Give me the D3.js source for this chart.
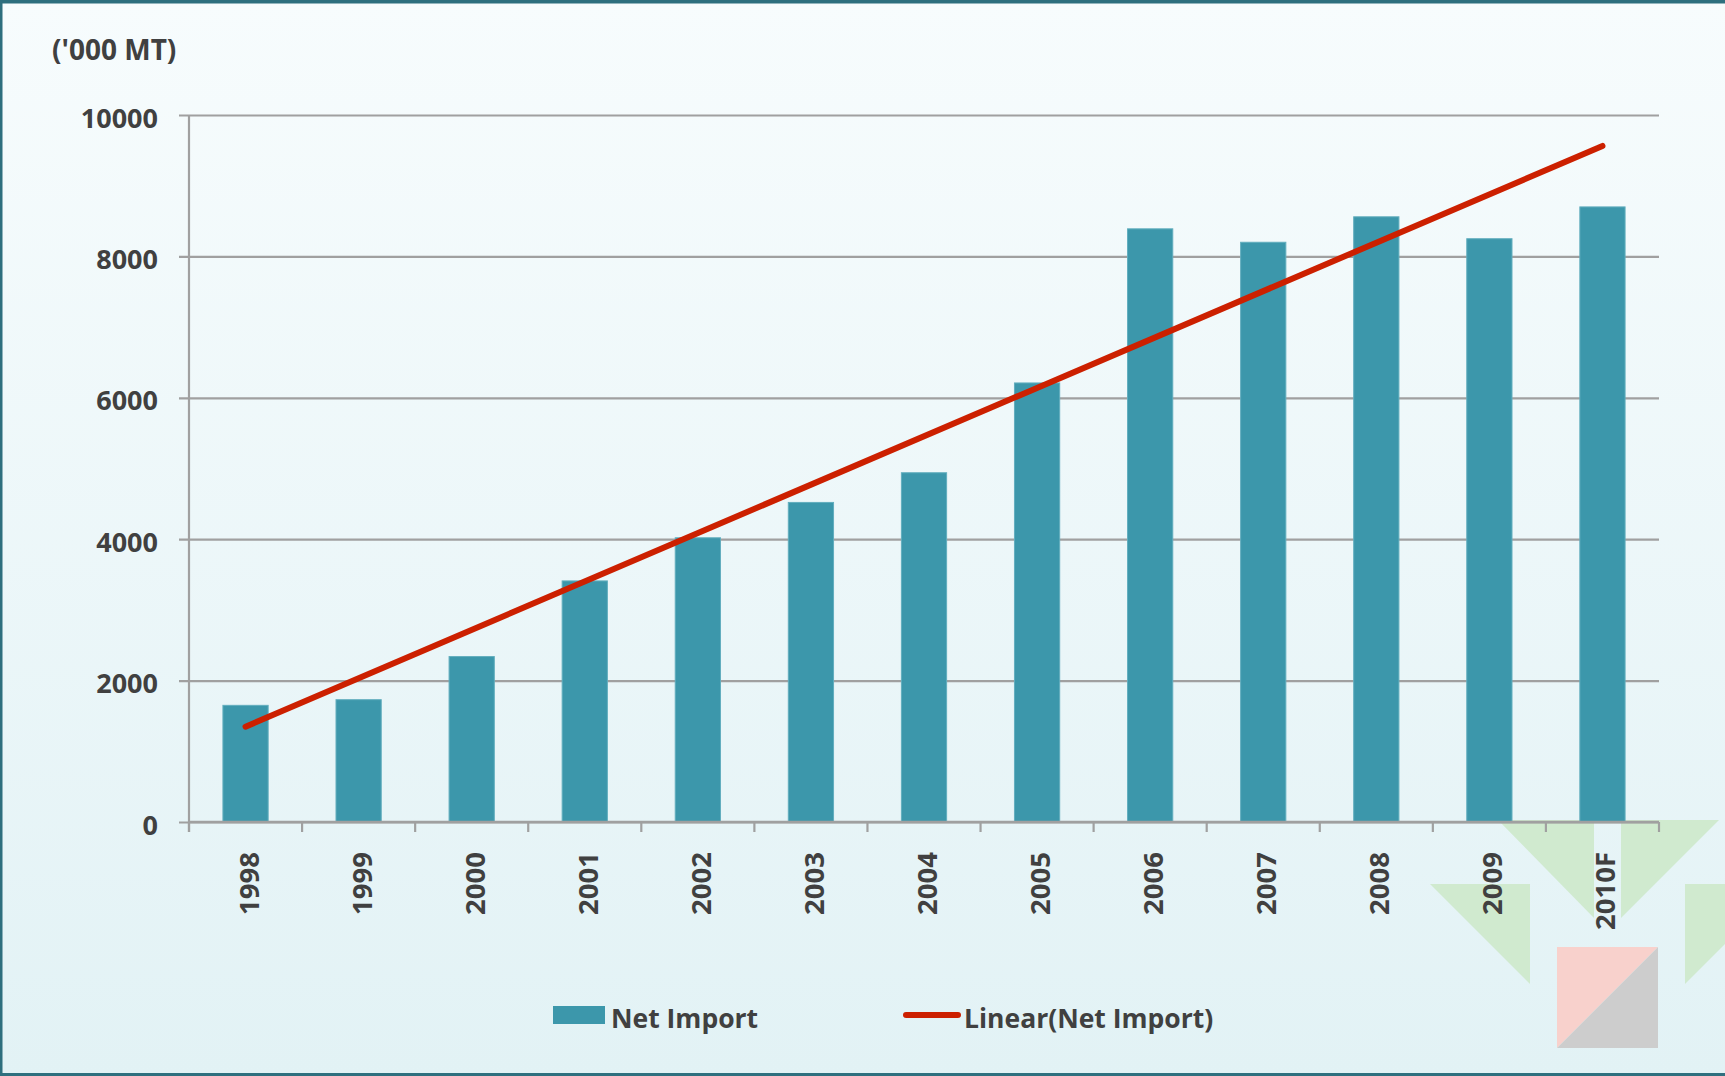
<!DOCTYPE html>
<html>
<head>
<meta charset="utf-8">
<script src="https://cdn.jsdelivr.net/npm/d3@7"></script>
<style>
  html, body { margin: 0; padding: 0; background: #ffffff; }
  svg { display: block; }
  text { font-family: "Open Sans", "DejaVu Sans", sans-serif; font-weight: 700; fill: #404040; }
</style>
</head>
<body>
<script>
// Net imports, thousand metric tonnes
const years = ["1998", "1999", "2000", "2001", "2002", "2003", "2004", "2005", "2006", "2007", "2008", "2009", "2010F"];
const netImport = [1650, 1730, 2340, 3410, 4020, 4520, 4940, 6210, 8390, 8200, 8560, 8250, 8700];
const yTicks = [0, 2000, 4000, 6000, 8000, 10000];
const unitLabel = "('000 MT)";
const seriesNames = ["Net Import", "Linear(Net Import)"];

const W = 1725, H = 1076;
const plot = { left: 189, right: 1659, top: 115, bottom: 822 };
const barColor = "#3c97ab";
const trendColor = "#cc2000";
const gridColor = "#a0a0a0";

const svg = d3.select("body").append("svg")
  .attr("width", W).attr("height", H);

// Background panel with soft vertical gradient
const defs = svg.append("defs");
const grad = defs.append("linearGradient").attr("id", "bg")
  .attr("x1", 0).attr("y1", 0).attr("x2", 0).attr("y2", 1);
grad.append("stop").attr("offset", "0%").attr("stop-color", "#f7fcfd");
grad.append("stop").attr("offset", "100%").attr("stop-color", "#e2f2f5");
defs.append("clipPath").attr("id", "panel")
  .append("rect").attr("x", 0).attr("y", 0).attr("width", W).attr("height", H);

svg.append("rect").attr("width", W).attr("height", H).attr("fill", "url(#bg)");

// Decorative corner ornaments
const deco = svg.append("g").attr("clip-path", "url(#panel)");
const green = "#d0eacf";
[
  [[1498, 820], [1594, 820], [1594, 918]],
  [[1621, 820], [1719, 820], [1621, 918]],
  [[1430, 884], [1530, 884], [1530, 984]],
  [[1685, 884], [1785, 884], [1685, 984]]
].forEach(p => deco.append("polygon").attr("points", p.join(" ")).attr("fill", green));
deco.append("polygon").attr("points", "1557,947 1658,947 1557,1048").attr("fill", "#f8d1cc");
deco.append("polygon").attr("points", "1658,947 1658,1048 1557,1048").attr("fill", "#cdcdcd");

// Scales
const x = d3.scaleBand().domain(years)
  .range([plot.left, plot.right])
  .paddingInner(0.6).paddingOuter(0.3);
const y = d3.scaleLinear().domain([0, 10000]).range([plot.bottom, plot.top]);

// Horizontal gridlines with short outside ticks
const yAxis = svg.append("g")
  .attr("transform", `translate(${plot.left},0)`)
  .call(d3.axisLeft(y).tickValues(yTicks).tickFormat(d3.format("d"))
    .tickSize(-(plot.right - plot.left)).tickSizeOuter(0).tickPadding(31));
yAxis.select(".domain").remove();
yAxis.selectAll(".tick line")
  .attr("x1", -10)
  .attr("stroke", gridColor).attr("stroke-width", 2.2);
yAxis.selectAll(".tick text")
  .attr("font-size", 27).attr("dy", "0.45em")
  .style("font-family", "'Open Sans', sans-serif").style("font-weight", 700)
  .attr("fill", "#404040");

// Vertical axis line
svg.append("line")
  .attr("x1", plot.left).attr("x2", plot.left)
  .attr("y1", plot.top).attr("y2", plot.bottom + 10)
  .attr("stroke", gridColor).attr("stroke-width", 2.2);

// Bars
svg.append("g").selectAll("rect")
  .data(netImport)
  .join("rect")
  .attr("x", (d, i) => x(years[i]))
  .attr("y", d => y(d))
  .attr("width", x.bandwidth())
  .attr("height", d => y(0) - y(d))
  .attr("fill", barColor)
  .attr("stroke", "#62aebe").attr("stroke-width", 1);

// Category axis: baseline plus ticks between categories
const step = x.step();
const boundaries = d3.range(years.length + 1).map(i => plot.left + i * step);
svg.append("line")
  .attr("x1", plot.left).attr("x2", plot.right)
  .attr("y1", y(0)).attr("y2", y(0))
  .attr("stroke", gridColor).attr("stroke-width", 2.5);
svg.append("g").selectAll("line")
  .data(boundaries)
  .join("line")
  .attr("x1", d => d).attr("x2", d => d)
  .attr("y1", y(0)).attr("y2", y(0) + 10)
  .attr("stroke", gridColor).attr("stroke-width", 2.2);

svg.append("g").selectAll("text")
  .data(years)
  .join("text")
  .attr("transform", d => `translate(${x(d) + x.bandwidth() / 2 + 13},${y(0) + 30}) rotate(-90)`)
  .attr("text-anchor", "end")
  .attr("font-size", 27.5)
  .text(d => d);

// Least-squares linear trend of the series
const idx = netImport.map((d, i) => i);
const mx = d3.mean(idx), my = d3.mean(netImport);
const slope = d3.sum(idx, i => (i - mx) * (netImport[i] - my)) / d3.sum(idx, i => (i - mx) ** 2);
const intercept = my - slope * mx;
const trend = [0, years.length - 1].map(i => ({ cat: years[i], v: intercept + slope * i }));

svg.append("path")
  .datum(trend)
  .attr("d", d3.line().x(d => x(d.cat) + x.bandwidth() / 2).y(d => y(d.v)))
  .attr("fill", "none")
  .attr("stroke", trendColor)
  .attr("stroke-width", 6)
  .attr("stroke-linecap", "round");

// Unit label
svg.append("text")
  .attr("x", 52).attr("y", 60)
  .attr("font-size", 28)
  .text(unitLabel);

// Legend
const legend = svg.append("g");
legend.append("rect")
  .attr("x", 553).attr("y", 1006).attr("width", 52).attr("height", 18)
  .attr("fill", barColor);
legend.append("text")
  .attr("x", 611).attr("y", 1028).attr("font-size", 26.5)
  .text(seriesNames[0]);
legend.append("line")
  .attr("x1", 906).attr("x2", 958).attr("y1", 1015).attr("y2", 1015)
  .attr("stroke", trendColor).attr("stroke-width", 6).attr("stroke-linecap", "round");
legend.append("text")
  .attr("x", 964).attr("y", 1028).attr("font-size", 26.5)
  .text(seriesNames[1]);

// Frame
const frame = "#2e6f7e";
svg.append("rect").attr("x", 0).attr("y", 0).attr("width", W).attr("height", 3.5).attr("fill", frame);
svg.append("rect").attr("x", 0).attr("y", 0).attr("width", 2.5).attr("height", H).attr("fill", frame);
svg.append("rect").attr("x", 0).attr("y", H - 3).attr("width", W).attr("height", 3).attr("fill", frame);
</script>
</body>
</html>
